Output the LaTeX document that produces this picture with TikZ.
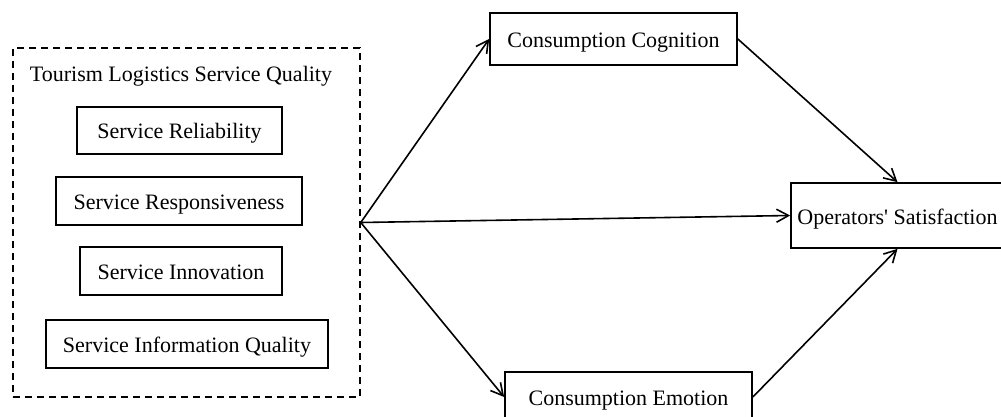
\documentclass[tikz,border=0pt]{standalone}
\usepackage{fontspec}
\newfontfamily\tnr{Liberation Serif}
\usetikzlibrary{arrows.meta}
\begin{document}
\begin{tikzpicture}[x=1pt,y=-1pt,
  every node/.style={font=\tnr\fontsize{22}{26}\selectfont, inner sep=0pt, text height=17pt, text depth=0pt},
  box/.style={draw, line width=1.7pt, rectangle},
  group/.style={draw, line width=1.5pt, dash pattern=on 7pt off 5pt},
  conn/.style={line width=1.6pt, -{Straight Barb[length=12pt,width=13pt]}}]
\useasboundingbox (0,0) rectangle (1001,417);
\fill[white] (0,0) rectangle (1001,417);
\node[group, minimum width=347pt, minimum height=349pt] (tlsq) at (186.5,222.5) {};
\node (title) at (181,73) {Tourism Logistics Service Quality};
\node[box, minimum width=205pt, minimum height=47pt] (rel) at (179.5,130.5) {Service Reliability};
\node[box, minimum width=246pt, minimum height=48pt] (resp) at (179,201) {Service Responsiveness};
\node[box, minimum width=202pt, minimum height=48pt] (inno) at (181,271) {Service Innovation};
\node[box, minimum width=282pt, minimum height=48pt] (info) at (187,344) {Service Information Quality};
\node[box, minimum width=247pt, minimum height=52pt] (cog) at (613.5,39) {Consumption Cognition};
\node[box, minimum width=213pt, minimum height=65pt] (ops) at (897.5,215.5) {Operators' Satisfaction};
\node[box, minimum width=247pt, minimum height=50pt] (emo) at (628.5,397) {Consumption Emotion};
\draw[conn] (tlsq.east) -- (cog.west);
\draw[conn] (tlsq.east) -- (ops.west);
\draw[conn] (tlsq.east) -- (emo.west);
\draw[conn] (cog.east) -- (ops.north);
\draw[conn] (emo.east) -- (ops.south);
\end{tikzpicture}
\end{document}
